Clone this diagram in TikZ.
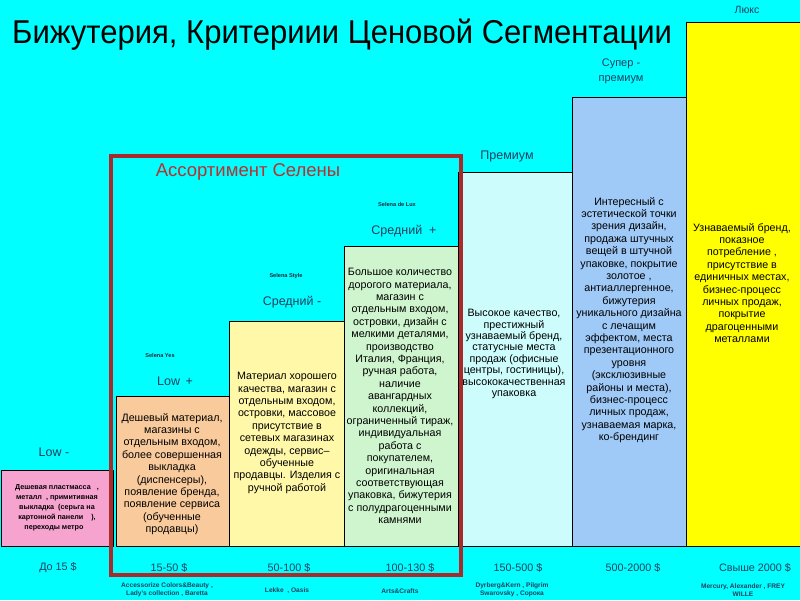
\documentclass[tikz,border=0pt]{standalone}
\usepackage{fontspec}
\setmainfont{Liberation Sans}
\definecolor{bgc}{HTML}{00FFFF}
\definecolor{cpink}{HTML}{F6A3CF}
\definecolor{cpeach}{HTML}{F9CB9C}
\definecolor{cyell}{HTML}{FFF8A8}
\definecolor{cgreen}{HTML}{CEF5CE}
\definecolor{ccyan}{HTML}{CCFCFC}
\definecolor{cblue}{HTML}{9FC9F7}
\definecolor{cgold}{HTML}{FFFF00}
\definecolor{lab}{HTML}{1F3F5F}
\definecolor{redbox}{HTML}{A82A2A}
\definecolor{redtxt}{HTML}{B83030}
\tikzset{
  bar/.style={draw=black, line width=0.8pt},
  body/.style={align=center, text=black, inner sep=0pt, font=\fontsize{10.7}{12.4}\selectfont},
  tier/.style={text=lab, inner sep=0pt, font=\fontsize{12.5}{14}\selectfont},
  sel/.style={text=lab!70!black, inner sep=0pt, font=\fontsize{5.6}{7}\selectfont\bfseries},
  price/.style={text=lab, inner sep=0pt, font=\fontsize{10.8}{12}\selectfont},
  brand/.style={align=center, text=lab, inner sep=0pt, font=\fontsize{6.6}{8}\selectfont\bfseries},
}
\begin{document}
\begin{tikzpicture}[x=1pt,y=-1pt]
\useasboundingbox (0,0) rectangle (800,600);
\fill[bgc] (0,0) rectangle (800,600);
% bars
\path[bar, fill=cpink]  (1,470) rectangle (113,546);
\path[bar, fill=cpeach] (116,396) rectangle (229,546);
\path[bar, fill=cyell]  (229,321) rectangle (344,546);
\path[bar, fill=cgreen] (344,246) rectangle (458,546);
\path[bar, fill=ccyan]  (458,172) rectangle (572,546);
\path[bar, fill=cblue]  (572,97) rectangle (686,546);
\path[bar, fill=cgold]  (686,22) rectangle (800,546);
% title
\node[inner sep=0pt, anchor=west, text=black, font=\fontsize{33}{36}\selectfont, xscale=0.94] (title) at (12,35) {Бижутерия, Критериии Ценовой Сегментации};
% tier labels
\node[tier] (t1) at (54,452) {Low -};
\node[sel]  (s2) at (160,355) {Selena Yes};
\node[tier] (t2) at (175,381) {Low \,+};
\node[sel]  (s3) at (286,276) {Selena Style};
\node[tier] (t3) at (292,302) {Средний -};
\node[sel]  (s4) at (397,204) {Selena de Lux};
\node[tier] (t4) at (404,231) {Средний \ +};
\node[tier] (t5) at (507,156) {Премиум};
\node[tier, align=center, font=\fontsize{11}{15}\selectfont] (t6) at (621,71) {Супер -\\премиум};
\node[tier, font=\fontsize{10.5}{12}\selectfont] (t7) at (747,10) {Люкс};
% body texts
\node[body, font=\fontsize{7.2}{9.9}\selectfont\bfseries] (b1) at (57,508) {Дешевая пластмасса \ \ ,\\металл \ , примитивная\\выкладка \ (серьга на\\картонной панели \ \ \ ),\\переходы метро \ \ \ };
\node[body] (b2) at (172,474) {Дешевый материал,\\магазины с\\отдельным входом,\\более совершенная\\выкладка\\(диспенсеры),\\появление бренда,\\появление сервиса\\(обученные\\продавцы)};
\node[body] (b3) at (287,433) {Материал хорошего\\качества, магазин с\\отдельным входом,\\островки, массовое\\присутствие в\\сетевых магазинах\\одежды, сервис–\\обученные\\продавцы. Изделия с\\ручной работой};
\node[body] (b4) at (400,396) {Большое количество\\дорогого материала,\\магазин с\\отдельным входом,\\островки, дизайн с\\мелкими деталями,\\производство\\Италия, Франция,\\ручная работа,\\наличие\\авангардных\\коллекций,\\ограниченный тираж,\\индивидуальная\\работа с\\покупателем,\\оригинальная\\соответствующая\\упаковка, бижутерия\\с полудрагоценными\\камнями};
\node[body, font=\fontsize{10.7}{11.4}\selectfont] (b5) at (514,354) {Высокое качество,\\престижный\\узнаваемый бренд,\\статусные места\\продаж (офисные\\центры, гостиницы),\\высококачественная\\упаковка};
\node[body] (b6) at (629,320) {Интересный с\\эстетической точки\\зрения дизайн,\\продажа штучных\\вещей в штучной\\упаковке, покрытие\\золотое ,\\антиаллергенное,\\бижутерия\\уникального дизайна\\с лечащим\\эффектом, места\\презентационного\\уровня\\(эксклюзивные\\районы и места),\\бизнес-процесс\\личных продаж,\\узнаваемая марка,\\ко-брендинг};
\node[body] (b7) at (742,283) {Узнаваемый бренд,\\показное\\потребление ,\\присутствие в\\единичных местах,\\бизнес-процесс\\личных продаж,\\покрытие\\драгоценными\\металлами};
% prices
\node[price] (p1) at (58,568) {До 15 \$};
\node[price] (p2) at (169,568) {15-50 \$};
\node[price] (p3) at (289,568) {50-100 \$};
\node[price] (p4) at (410,568) {100-130 \$};
\node[price] (p5) at (518,568) {150-500 \$};
\node[price] (p6) at (633,568) {500-2000 \$};
\node[price] (p7) at (755,568) {Свыше 2000 \$};
% brands
\node[brand] (br2) at (167,590) {Accessorize Colors\&Beauty ,\\Lady's collection , Baretta};
\node[brand] (br3) at (287,591) {Lekke \ , Oasis};
\node[brand] (br4) at (400,591) {Arts\&Crafts};
\node[brand] (br5) at (512,590) {Dyrberg\&Kern , Pilgrim\\Swarovsky , Сорока};
\node[brand] (br7) at (743,590) {Mercury, Alexander , FREY\\WILLE};
% red frame
\draw[redbox, line width=4pt] (110.5,156) rectangle (461,575);
\node[text=redtxt, inner sep=0pt, font=\fontsize{18.5}{20}\selectfont] (sel) at (248,172) {Ассортимент Селены};
\end{tikzpicture}
\end{document}
